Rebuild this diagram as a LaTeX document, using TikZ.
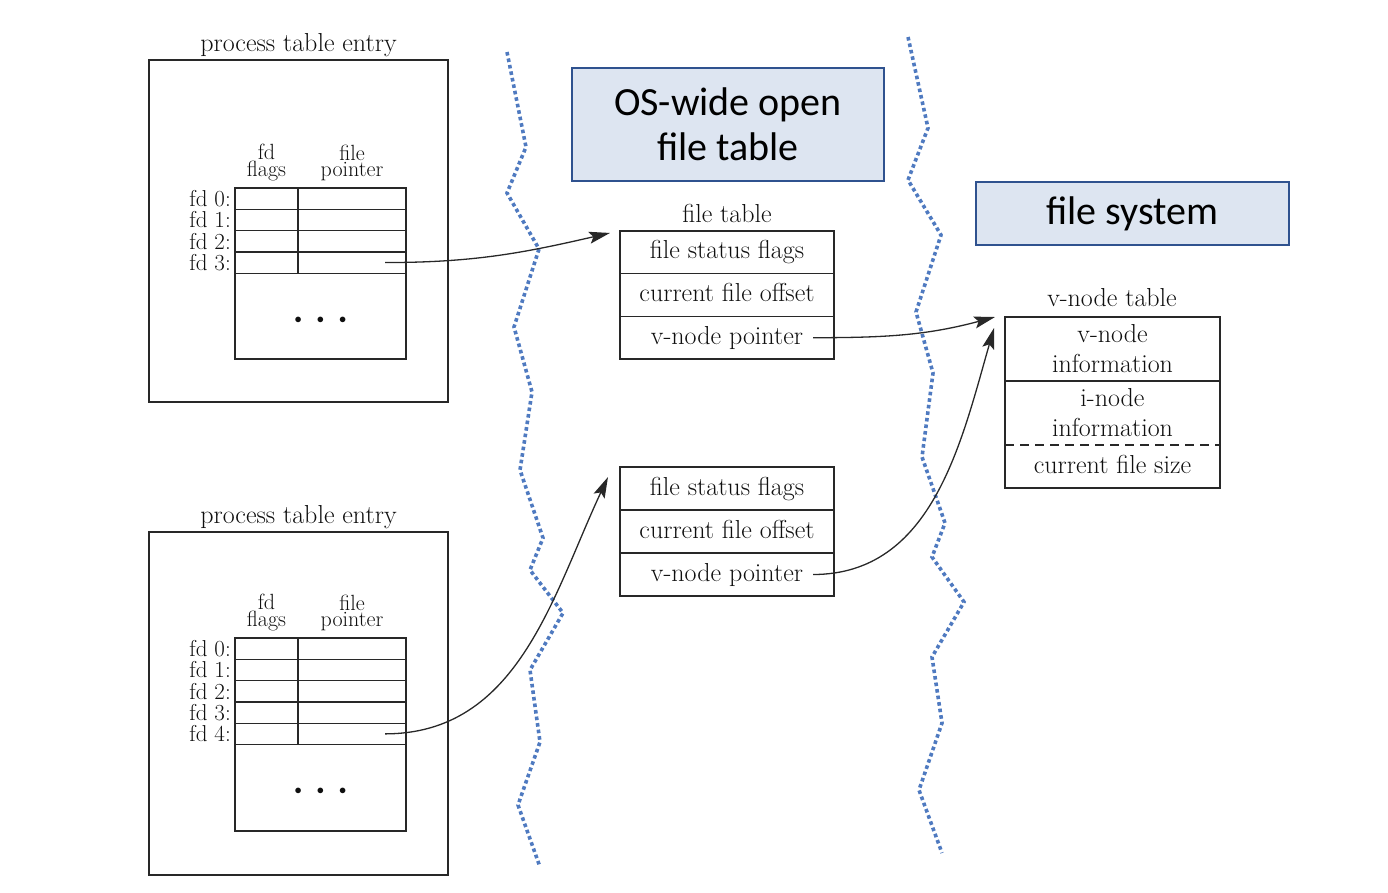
\documentclass[tikz,border=0pt]{standalone}
\usepackage{fontspec}
\newfontfamily\calibrifont{Carlito}
\usetikzlibrary{arrows.meta}
\definecolor{boxfill}{RGB}{221,229,241}
\definecolor{boxdraw}{RGB}{47,82,143}
\definecolor{zigc}{RGB}{79,122,192}
\definecolor{linec}{RGB}{40,40,40}
\definecolor{txtc}{RGB}{15,15,15}
\begin{document}
\begin{tikzpicture}[x=1pt,y=-1pt,
  lbl/.style={font=\fontsize{26}{30}\selectfont, text=txtc, inner sep=0, text height=18pt, text depth=5pt},
  hd/.style={font=\fontsize{22}{16.5}\selectfont, text=txtc, inner sep=0, align=center, anchor=south},
  fdlab/.style={font=\fontsize{23}{26}\selectfont, text=txtc, inner sep=0, anchor=east},
  cell/.style={draw=linec, line width=1.2pt, inner sep=0, outer sep=0},
  fcell/.style={cell, minimum width=63pt, minimum height=21.3pt},
  pcell/.style={cell, minimum width=108pt, minimum height=21.3pt},
  procbox/.style={draw=linec, line width=1.4pt, inner sep=0, minimum width=299pt},
  ftcell/.style={cell, minimum width=214pt, font=\fontsize{26}{30}\selectfont, text=txtc, text height=18pt, text depth=5pt},
  vcell/.style={inner sep=0, outer sep=0, minimum width=215pt, font=\fontsize{26}{30}\selectfont, text=txtc, align=center},
  hdr/.style={fill=boxfill, draw=boxdraw, line width=1.2pt, font=\calibrifont\fontsize{40}{45}\selectfont, align=center, inner sep=0, text=black},
  zigline/.style={draw=zigc, line width=3.6pt, dash pattern=on 3.6pt off 3pt},
  arr/.style={draw=linec, line width=1.3pt, -{Stealth[length=21pt,width=12pt,inset=4pt]}},
  dotrow/.style={font=\fontsize{14}{14}\selectfont, text=txtc, inner sep=0}
]
\useasboundingbox (0,0) rectangle (1388,892);

% dotted separators
\draw[zigline] (507,52) -- (526,147) -- (507,193) -- (539,249) -- (514,327) -- (532,392) -- (520,470) -- (543,538) -- (530,570) -- (563,613) -- (530,670) -- (540,742) -- (518,805) -- (540,867);
\draw[zigline] (908,37) -- (928,128) -- (908,180) -- (941,235) -- (916,312) -- (933,373) -- (922,457) -- (945,523) -- (932,557) -- (964,602) -- (932,657) -- (942,723) -- (919,790) -- (942,853);

% top process table entry
\node[procbox, minimum height=342pt] (P1) at (298.5,231) {};
\node[lbl] (P1t) at (298.5,44.5) {process table entry};
\node[hd] (P1h1) at (266.5,181) {fd\\flags};
\node[hd] (P1h2) at (352,181) {file\\pointer};
\foreach \i in {0,...,3}{
  \pgfmathsetmacro\yc{198.65+21.3*\i}
  \node[fcell] (P1f\i) at (266.5,\yc) {};
  \node[pcell] (P1p\i) at (352,\yc) {};
  \node[fdlab] (P1l\i) at (231,\yc) {fd \i:};
}
\node[cell, minimum width=171pt, minimum height=85.8pt] (P1d) at (320.5,316.1) {};
\node[dotrow] (P1dt) at (320.5,320) {$\bullet$\hspace{15pt}$\bullet$\hspace{15pt}$\bullet$};

% bottom process table entry
\node[procbox, minimum height=343pt] (P2) at (298.5,703.5) {};
\node[lbl] (P2t) at (298.5,516.5) {process table entry};
\node[hd] (P2h1) at (266.5,631) {fd\\flags};
\node[hd] (P2h2) at (352,631) {file\\pointer};
\foreach \i in {0,...,4}{
  \pgfmathsetmacro\yc{648.65+21.3*\i}
  \node[fcell] (P2f\i) at (266.5,\yc) {};
  \node[pcell] (P2p\i) at (352,\yc) {};
  \node[fdlab] (P2l\i) at (231,\yc) {fd \i:};
}
\node[cell, minimum width=171pt, minimum height=86.5pt] (P2d) at (320.5,787.75) {};
\node[dotrow] (P2dt) at (320.5,791) {$\bullet$\hspace{15pt}$\bullet$\hspace{15pt}$\bullet$};

% header boxes
\node[hdr, minimum width=312pt, minimum height=113pt] (H1) at (728,124.5) {OS-wide open\\file table};
\node[hdr, minimum width=313pt, minimum height=63pt] (H2) at (1132.5,213.5) {file system};

% file table
\node[lbl] (FT) at (727,215.5) {file table};
\node[ftcell, minimum height=42.7pt] (F1a) at (727,252.3) {file status flags};
\node[ftcell, minimum height=42.7pt] (F1b) at (727,295) {current file offset};
\node[ftcell, minimum height=42.7pt] (F1c) at (727,337.7) {v-node pointer};
\node[ftcell, minimum height=43pt] (F2a) at (727,488.5) {file status flags};
\node[ftcell, minimum height=43pt] (F2b) at (727,531.5) {current file offset};
\node[ftcell, minimum height=43pt] (F2c) at (727,574.5) {v-node pointer};

% v-node table
\node[lbl] (VT) at (1112,300) {v-node table};
\node[vcell, draw=linec, line width=1.2pt, minimum height=64pt] (V1) at (1112.5,349) {v-node\\information};
\node[vcell, minimum height=64pt] (V2) at (1112.5,413) {i-node\\information};
\node[vcell, minimum height=43pt, text height=18pt, text depth=5pt] (V3) at (1112.5,466.5) {current file size};
\draw[linec, line width=1.2pt] (V2.north west) rectangle (V3.south east);
\draw[linec, line width=1.2pt, dash pattern=on 9pt off 6pt] (V2.south west) -- (V2.south east);

% connectors
\draw[arr] ([xshift=33pt]P1p3.center) to[out=0,in=193] ([xshift=-10pt,yshift=-2pt]F1a.north west);
\draw[arr] ([xshift=33pt]P2p4.center) to[out=0,in=245] ([xshift=-12pt,yshift=-10pt]F2a.north west);
\draw[arr] ([xshift=86pt]F1c.center) to[out=0,in=195] ([xshift=-10pt]V1.north west);
\draw[arr] ([xshift=86pt]F2c.center) to[out=0,in=254] ([xshift=-11pt,yshift=-11pt]V1.north west);
\end{tikzpicture}
\end{document}
